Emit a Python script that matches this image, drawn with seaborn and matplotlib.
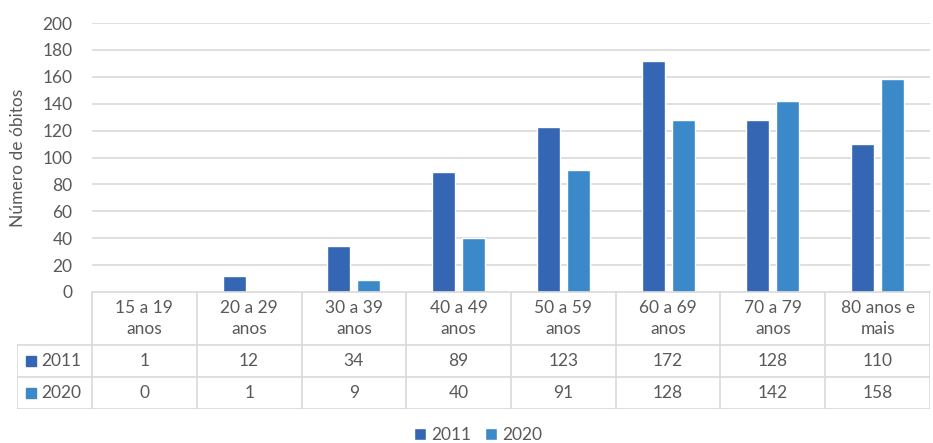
"""
Óbitos por faixa etária, 2011 vs 2020 - barras com tabela de dados (estilo Excel).
"""

import numpy as np
import pandas as pd
import matplotlib
matplotlib.use('Agg')
import matplotlib.pyplot as plt
import seaborn as sns

CATEGORIES = ['15 a 19\nanos', '20 a 29\nanos', '30 a 39\nanos', '40 a 49\nanos',
              '50 a 59\nanos', '60 a 69\nanos', '70 a 79\nanos', '80 anos e\nmais']
SERIES     = ['2011', '2020']
VALS_2011  = [1, 12, 34, 89, 123, 172, 128, 110]
VALS_2020  = [0, 1, 9, 40, 91, 128, 142, 158]
Y_TICKS    = list(range(0, 201, 20))

COLORS    = {'2011': '#3566B3', '2020': '#3B89C9'}
GRID_CLR  = '#D9D9D9'
TEXT_CLR  = '#595959'
FS        = 12.5

W, H = 933, 443

sns.set_theme(style='white')
plt.rcParams['font.family'] = ['Lato', 'DejaVu Sans']

data = pd.DataFrame({
    'faixa': CATEGORIES * 2,
    'ano':   [SERIES[0]] * len(CATEGORIES) + [SERIES[1]] * len(CATEGORIES),
    'obitos': VALS_2011 + VALS_2020,
})

fig = plt.figure(figsize=(W / 100, H / 100), dpi=100)

# pixel layout of the plot area
px_left, px_right, px_top, px_zero = 92, 930, 23, 292
ax = fig.add_axes([px_left / W, 1 - px_zero / H,
                   (px_right - px_left) / W, (px_zero - px_top) / H])

sns.barplot(data=data, x='faixa', y='obitos', hue='ano', order=CATEGORIES,
            hue_order=SERIES, palette=COLORS, width=0.57, gap=0.23,
            saturation=1, ax=ax, legend=True)

ax.set_xlim(-0.5, len(CATEGORIES) - 0.5)
ax.set_ylim(0, 200)
ax.set_yticks(Y_TICKS)
ax.set_yticklabels([str(t) for t in Y_TICKS], color=TEXT_CLR, fontsize=FS)
ax.tick_params(axis='y', length=0, pad=14)
ax.set_xticks([])
ax.set_xlabel('')
ax.set_ylabel('Número de óbitos', color=TEXT_CLR, fontsize=FS)
ax.yaxis.set_label_coords((26 - px_left) / (px_right - px_left), 0.5)
for t in Y_TICKS[1:]:
    ax.axhline(t, color=GRID_CLR, lw=1.2, zorder=0)
for s in ['left', 'top', 'right']:
    ax.spines[s].set_visible(False)
ax.spines['bottom'].set_color(GRID_CLR)
ax.spines['bottom'].set_linewidth(1.2)

handles, labels = ax.get_legend_handles_labels()
ax.get_legend().remove()

# --- data table below the plot ---
cat_px = (px_right - px_left) / len(CATEGORIES)
lab_left = 17
tab_bottom = 409
tab = fig.add_axes([lab_left / W, 1 - tab_bottom / H,
                    (px_right - lab_left) / W, (tab_bottom - px_zero) / H])
x_left = -0.5 - (px_left - lab_left) / cat_px
tab.set_xlim(x_left, len(CATEGORIES) - 0.5)
tab.set_ylim(tab_bottom - px_zero, 0)
tab.axis('off')

row_h = [0, 53, 85, 117]
lw = 1.2
for i in range(len(CATEGORIES) + 1):
    tab.plot([i - 0.5, i - 0.5], [0, row_h[-1]], color=GRID_CLR, lw=lw)
tab.plot([x_left, x_left], [row_h[1], row_h[-1]], color=GRID_CLR, lw=lw)
for y in row_h[1:]:
    tab.plot([x_left, len(CATEGORIES) - 0.5], [y, y], color=GRID_CLR, lw=lw)

for i, cat in enumerate(CATEGORIES):
    tab.text(i, (row_h[0] + row_h[1]) / 2, cat, ha='center', va='center',
             color=TEXT_CLR, fontsize=FS, linespacing=1.35)
    tab.text(i, (row_h[1] + row_h[2]) / 2, str(VALS_2011[i]), ha='center',
             va='center', color=TEXT_CLR, fontsize=FS)
    tab.text(i, (row_h[2] + row_h[3]) / 2, str(VALS_2020[i]), ha='center',
             va='center', color=TEXT_CLR, fontsize=FS)

for r, name in enumerate(SERIES):
    yc = (row_h[r + 1] + row_h[r + 2]) / 2
    tab.plot([x_left + 14 / cat_px], [yc], marker='s', ms=7,
             color=COLORS[name], ls='none')
    tab.text(x_left + 24 / cat_px, yc, name, ha='left', va='center',
             color=TEXT_CLR, fontsize=FS)

fig.legend(handles, labels, loc='center', bbox_to_anchor=(478 / W, 1 - 435 / H),
           ncol=2, frameon=False, fontsize=FS, handlelength=0.7,
           handleheight=0.7, handletextpad=0.3, columnspacing=0.8,
           labelcolor=TEXT_CLR)

fig.savefig('out.png', dpi=100)
plt.close(fig)
